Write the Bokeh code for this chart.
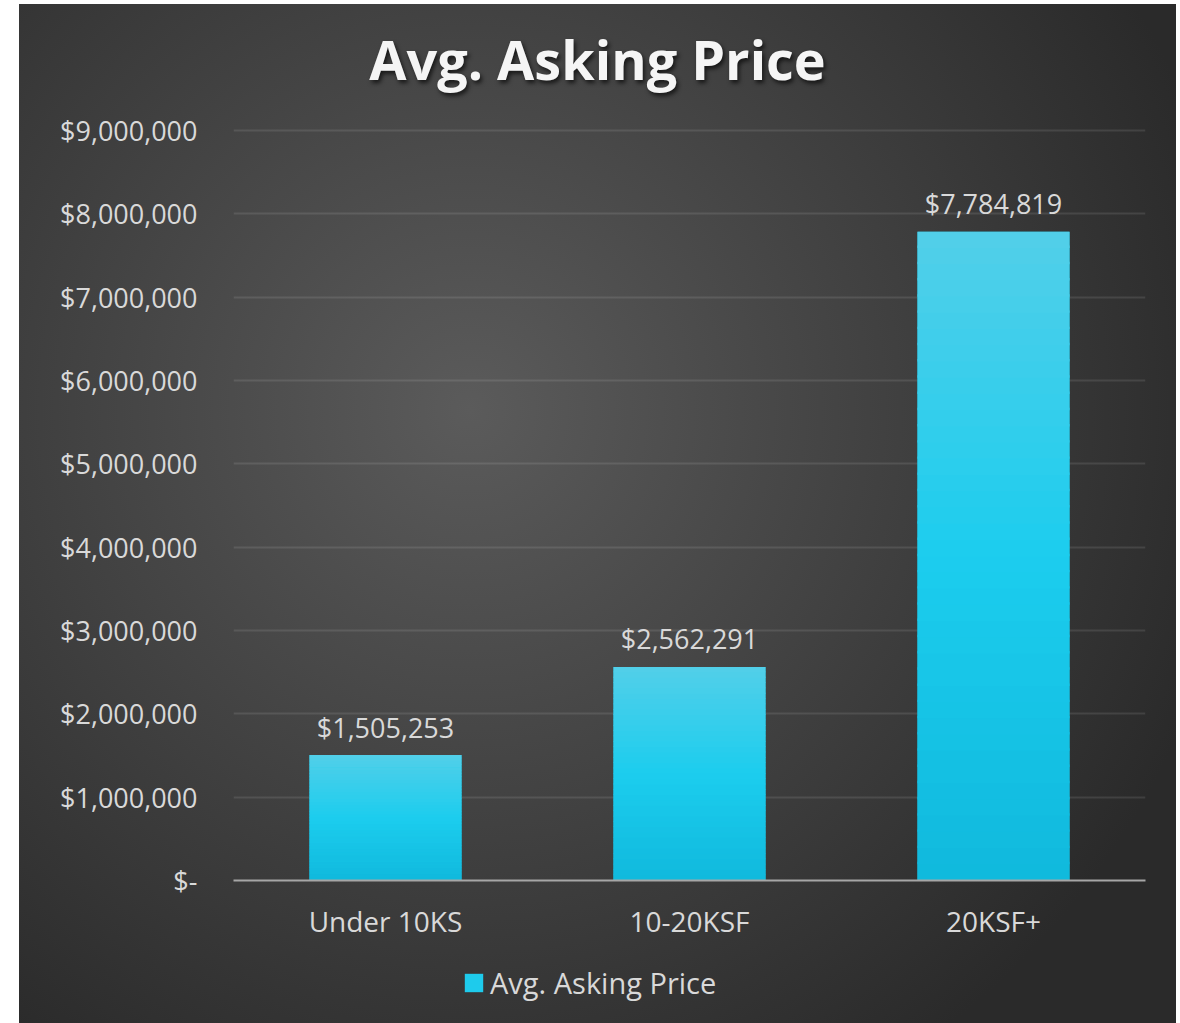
from bokeh.plotting import figure
from bokeh.layouts import column
from bokeh.models import Range1d, FactorRange, FixedTicker, Legend, LegendItem, Div
from bokeh.core.properties import value
from bokeh.embed import file_html
from bokeh.resources import INLINE

# ---------------- data ----------------
title_text = "Avg. Asking Price"
categories = ["Under 10KS", "10-20KSF", "20KSF+"]
avg_prices = [1505253, 2562291, 7784819]
series_name = "Avg. Asking Price"
y_ticks = [0, 1000000, 2000000, 3000000, 4000000, 5000000, 6000000, 7000000, 8000000, 9000000]
y_tick_labels = ["$-", "$1,000,000", "$2,000,000", "$3,000,000", "$4,000,000",
                 "$5,000,000", "$6,000,000", "$7,000,000", "$8,000,000", "$9,000,000"]

FONT = "Open Sans"
TXT = "#d9d9d9"
BAR = "#1ecbec"
W = 1176

# ---------------- title ----------------
title_div = Div(
    text=(f'<div style="width:1157px; margin-left:19px; padding-top:32px; text-align:center; '
          f'font-family:\'Open Sans\'; font-weight:700; font-size:54px; line-height:54px; '
          f'color:#f5f5f5; text-shadow:2px 3px 4px rgba(0,0,0,0.65); white-space:nowrap;">'
          f'{title_text}</div>'),
    width=W, height=100, margin=(0, 0, 0, 0))

# ---------------- main chart ----------------
p = figure(x_range=FactorRange(*categories), y_range=Range1d(0, 9024000),
           width=W, height=843, output_backend="svg", toolbar_location=None,
           min_border_left=233, min_border_right=31, min_border_top=28, min_border_bottom=63)
p.background_fill_alpha = 0
p.border_fill_alpha = 0
p.outline_line_color = None

# gradient bars built from slices of each value
stops = [(0.0, (0x10, 0xb9, 0xdd)), (0.5, (0x1c, 0xcd, 0xee)), (1.0, (0x52, 0xcf, 0xe9))]
def grad(t):
    for (t0, c0), (t1, c1) in zip(stops[:-1], stops[1:]):
        if t <= t1:
            f = (t - t0) / (t1 - t0)
            return "#%02x%02x%02x" % tuple(int(round(a + (b - a) * f)) for a, b in zip(c0, c1))
    return "#%02x%02x%02x" % stops[-1][1]

p.vbar(x=categories, top=avg_prices, width=0.5, fill_color=BAR, line_color=None)
N = 40
xs, bots, tops, cols = [], [], [], []
for c, v in zip(categories, avg_prices):
    for k in range(N):
        xs.append(c)
        bots.append(v * k / N)
        tops.append(min(v, v * (k + 1.15) / N))
        cols.append(grad((k + 0.5) / N))
p.vbar(x=xs, bottom=bots, top=tops, width=0.5, fill_color=cols, line_color=None)

# data labels
p.text(x=categories, y=avg_prices, text=[f"${v:,}" for v in avg_prices],
       text_align="center", text_baseline="alphabetic", y_offset=-28,
       text_font=value(FONT), text_font_size="27px", text_color=TXT)

# grid & axes
p.xgrid.grid_line_color = None
p.ygrid.grid_line_color = "#ffffff"
p.ygrid.grid_line_alpha = 0.1
p.ygrid.grid_line_width = 2
p.yaxis.ticker = FixedTicker(ticks=y_ticks)
p.yaxis.major_label_overrides = dict(zip(y_ticks, y_tick_labels))
p.yaxis.axis_line_color = None
p.yaxis.major_tick_line_color = None
p.yaxis.minor_tick_line_color = None
p.yaxis.major_label_standoff = 30
p.yaxis.major_label_text_font = FONT
p.yaxis.major_label_text_font_size = "27px"
p.yaxis.major_label_text_color = TXT

p.xaxis.axis_line_color = "#a6a6a6"
p.xaxis.axis_line_width = 2
p.xaxis.major_tick_line_color = None
p.xaxis.minor_tick_line_color = None
p.xaxis.major_label_standoff = 15
p.xaxis.major_label_text_font = FONT
p.xaxis.major_label_text_font_size = "28px"
p.xaxis.major_label_text_color = TXT

# ---------------- legend strip ----------------
# same series, muted (transparent) and out of view; only its legend entry shows
lf = figure(width=W, height=80, x_range=FactorRange(*categories), y_range=Range1d(1e8, 2e8),
            output_backend="svg", toolbar_location=None,
            x_axis_location=None, y_axis_location=None,
            min_border_left=233, min_border_right=31, min_border_top=0, min_border_bottom=0)
lf.background_fill_alpha = 0
lf.border_fill_alpha = 0
lf.outline_line_color = None
lf.grid.visible = False
lr = lf.vbar(x=categories, top=avg_prices, width=0.5, fill_color=BAR, line_color=None,
             muted_alpha=0)
lr.muted = True
legend = Legend(items=[LegendItem(label=series_name, renderers=[lr])],
                location=(229, 21), orientation="horizontal",
                glyph_width=23, glyph_height=23, label_height=23, padding=10, label_standoff=5,
                label_text_font=FONT, label_text_font_size="29px", label_text_color=TXT,
                background_fill_alpha=0, border_line_color=None)
lf.add_layout(legend, "center")

layout = column(title_div, p, lf, spacing=0)
layout.styles = {"background": "linear-gradient(to right, #ffffff 0px, #ffffff 19px, transparent 19px), "
                               "linear-gradient(to bottom, #ffffff 0px, #ffffff 4px, transparent 4px), "
                               "radial-gradient(circle 780px at 470px 410px, #5b5b5b 0%, #2a2a2a 100%)"}

open("out.html", "w").write(file_html(layout, INLINE))
